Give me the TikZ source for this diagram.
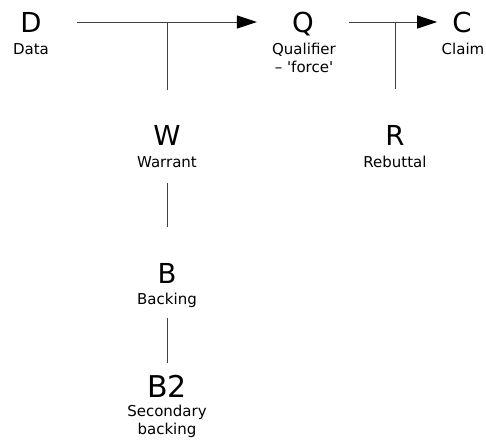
\documentclass[tikz,border=0pt]{standalone}
\usepackage{fontspec}
\setmainfont[Ligatures=TeXOff]{DejaVu Sans}
\usetikzlibrary{arrows.meta}

\begin{document}
\begin{tikzpicture}[x=1pt, y=-1pt, > = {Triangle[length=20pt, width=13pt, color=black]},
	letter/.style  = {font=\fontsize{27.5}{33}\selectfont, inner sep=0pt, anchor=base, text height=20pt, text depth=0pt},
	caption/.style = {font=\fontsize{15}{17.5}\selectfont, inner sep=0pt, anchor=base, align=center},
	link/.style    = {line width=1pt, draw=black!75},
	]
	\useasboundingbox (0,0) rectangle (486,439);

	% top row: data, qualifier, claim
	\node[letter] (D) at (31,32) {D};
	\node[caption] (data) at (31,54) {Data};
	\node[letter] (Q) at (303,32) {Q};
	\node[caption] (qualifier) at (304,72) {Qualifier\\– 'force'}; % base = last line
	\node[letter] (C) at (462,32) {C};
	\node[caption] (claim) at (463,54) {Claim};

	% warrant and rebuttal under the arrows
	\node[letter] (W) at (167,145) {W};
	\node[caption, text depth=4pt] (warrant) at (167,167) {Warrant};
	\node[letter] (R) at (395,145) {R};
	\node[caption] (rebuttal) at (395,167) {Rebuttal};

	% backing chain
	\node[letter] (B) at (167,283) {B};
	\node[caption, text depth=4pt] (backing) at (167,304) {Backing};
	\node[letter, font=\fontsize{30}{36}\selectfont, text height=22pt] (B2) at (167,397) {B2};
	\node[caption] (secondary) at (167,434) {Secondary\\backing};

	\coordinate (wj) at (W |- D);
	\coordinate (rj) at (R |- D);

	\draw[->, link, shorten <=35pt, shorten >=35pt] (D) -- (Q); % data to qualifier
	\draw[->, link, shorten <=35pt, shorten >=15pt] (Q) -- (C); % qualifier to claim
	\draw[link, shorten <=35pt] (W) -- (wj);
	\draw[link, shorten <=36pt] (R) -- (rj);

	\draw[link, shorten <=12pt, shorten >=36pt] (warrant.south) -- (B.north);
	\draw[link, shorten <=10pt, shorten >=12pt] (backing.south) -- (B2.north);

\end{tikzpicture}
\end{document}
